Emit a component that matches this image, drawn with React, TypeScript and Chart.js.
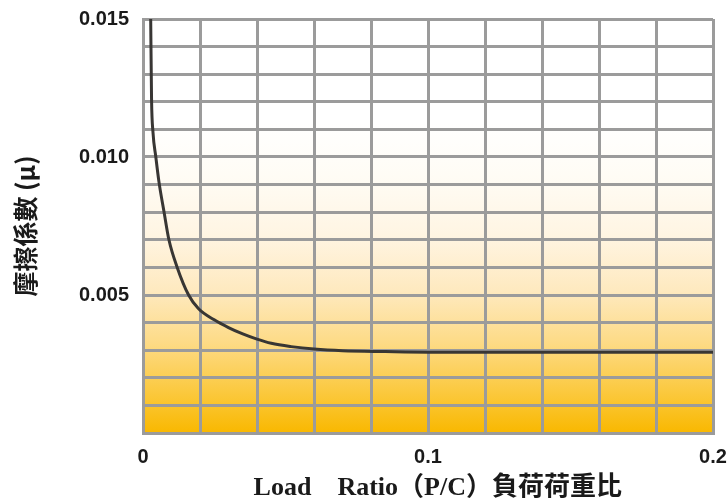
import React, { useEffect, useRef } from "react";
import { Chart, registerables } from "chart.js";

Chart.register(...registerables);

// Load ratio (P/C)
const loadRatio = [
  0.0027, 0.003, 0.0035, 0.0045, 0.0056, 0.0074, 0.0091, 0.012, 0.016, 0.0195,
  0.025, 0.03, 0.035, 0.04, 0.045, 0.052, 0.06, 0.07, 0.085, 0.1, 0.15, 0.2,
];
// Friction coefficient (μ)
const frictionCoef = [
  0.015, 0.0121, 0.0109, 0.01, 0.0091, 0.008, 0.007, 0.006, 0.005, 0.0045,
  0.0041, 0.00382, 0.00359, 0.0034, 0.00325, 0.00313, 0.00304, 0.00298, 0.00295,
  0.00293, 0.00293, 0.00293,
];

const xTickLabels = ["0", "0.1", "0.2"];
const yTickLabels = ["0.005", "0.010", "0.015"];

const xTitle = "   Load　Ratio（P/C）負荷荷重比";
const yTitle = "摩擦係數 (μ)";

const bgPlugin = {
  id: "bgGradient",
  beforeDraw(chart: any) {
    const { ctx, chartArea } = chart;
    if (!chartArea) return;
    const { left, right, top, bottom } = chartArea;
    const g = ctx.createLinearGradient(0, bottom, 0, top);
    g.addColorStop(0, "#F9B800");
    g.addColorStop(0.1, "#FBC93F");
    g.addColorStop(0.22, "#FDDB87");
    g.addColorStop(0.34, "#FEE9BE");
    g.addColorStop(0.48, "#FFF5E3");
    g.addColorStop(0.62, "#FFFCF5");
    g.addColorStop(0.75, "#FFFFFF");
    g.addColorStop(1, "#FFFFFF");
    ctx.save();
    ctx.fillStyle = g;
    ctx.fillRect(left, top, right - left, bottom - top);
    ctx.restore();
  },
};

export default function App() {
  const ref = useRef<HTMLCanvasElement | null>(null);

  useEffect(() => {
    if (!ref.current) return;
    const gridColor = "#9b9b9b";
    const chart = new Chart(ref.current, {
      type: "line",
      data: {
        datasets: [
          {
            data: loadRatio.map((x, i) => ({ x, y: frictionCoef[i] })),
            borderColor: "#383634",
            borderWidth: 3,
            pointRadius: 0,
            fill: false,
            cubicInterpolationMode: "monotone",
          },
        ],
      },
      options: {
        animation: false,
        responsive: true,
        maintainAspectRatio: false,
        layout: { padding: { top: 19, right: 15, left: 0, bottom: 0 } },
        plugins: {
          legend: { display: false },
          tooltip: { enabled: false },
        },
        scales: {
          x: {
            type: "linear",
            min: 0,
            max: 0.2,
            afterFit: (s: any) => {
              s.height = 71;
              s.paddingLeft = 0;
              s.paddingRight = 0;
            },
            ticks: {
              stepSize: 0.02,
              autoSkip: false,
              maxRotation: 0,
              padding: 12,
              color: "#1a1a1a",
              font: { family: "'Liberation Sans', Arial, sans-serif", size: 20, weight: "bold" },
              callback: (v: any) => {
                const k = Math.round(Number(v) * 100);
                if (k === 0) return xTickLabels[0];
                if (k === 10) return xTickLabels[1];
                if (k === 20) return xTickLabels[2];
                return "";
              },
            },
            grid: { color: gridColor, lineWidth: 3, drawTicks: false },
            border: { color: gridColor, width: 3 },
            title: {
              display: true,
              text: xTitle,
              color: "#1a1a1a",
              padding: { top: 0, bottom: 0 },
              font: {
                family: "'Liberation Serif', 'Noto Sans CJK TC', serif",
                size: 26,
                weight: "bold",
              },
            },
          },
          y: {
            type: "linear",
            min: 0,
            max: 0.015,
            afterFit: (s: any) => {
              s.width = 143;
              s.paddingTop = 0;
              s.paddingBottom = 0;
            },
            ticks: {
              stepSize: 0.001,
              autoSkip: false,
              padding: 14,
              color: "#1a1a1a",
              font: { family: "'Liberation Sans', Arial, sans-serif", size: 20, weight: "bold" },
              callback: (v: any) => {
                const k = Math.round(Number(v) * 1000);
                if (k === 5) return yTickLabels[0];
                if (k === 10) return yTickLabels[1];
                if (k === 15) return yTickLabels[2];
                return "";
              },
            },
            grid: { color: gridColor, lineWidth: 3, drawTicks: false },
            border: { color: gridColor, width: 3 },
            title: {
              display: true,
              text: yTitle,
              color: "#1a1a1a",
              padding: { top: 10, bottom: 0 },
              font: {
                family: "'Noto Sans CJK TC', sans-serif",
                size: 25,
                weight: "bold",
              },
            },
          },
        },
      },
      plugins: [bgPlugin],
    });
    return () => chart.destroy();
  }, []);

  return (
    <div style={{ position: "fixed", left: 0, top: 0, width: 728, height: 504, background: "#fff" }}>
      <canvas ref={ref} />
    </div>
  );
}
